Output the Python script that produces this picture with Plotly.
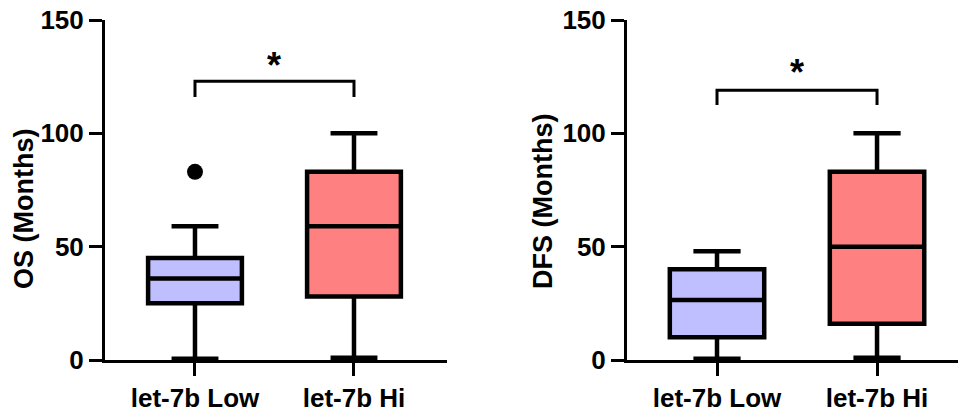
import plotly.graph_objects as go

# ---- data ----
categories = ["let-7b Low", "let-7b Hi"]

os_q1 = [25, 28]
os_median = [36, 59]
os_q3 = [45, 83]
os_lower = [0.5, 1]
os_upper = [59, 100]
os_outlier_x = ["let-7b Low"]
os_outlier_y = [83]

dfs_q1 = [10, 16]
dfs_median = [26.5, 50]
dfs_q3 = [40, 83]
dfs_lower = [0.5, 1]
dfs_upper = [48, 100]

box_colors = ["#BFBFFF", "#FF8080"]

os_bracket_top = 123
os_bracket_leg = 116
os_star_y = 130
dfs_bracket_top = 119
dfs_bracket_leg = 112.5
dfs_star_y = 127

yticks = [0, 50, 100, 150]

FONT = "Liberation Sans, Arial, sans-serif"
W, H = 958, 412

fig = go.Figure()

def add_boxes(q1, med, q3, lo, hi, xa, ya):
    for i, c in enumerate(categories):
        fig.add_trace(go.Box(
            x=[c], q1=[q1[i]], median=[med[i]], q3=[q3[i]],
            lowerfence=[lo[i]], upperfence=[hi[i]],
            width=0.59, whiskerwidth=0.5,
            fillcolor=box_colors[i],
            line=dict(color="black", width=4.5),
            boxpoints=False, hoverinfo="skip",
            xaxis=xa, yaxis=ya, showlegend=False,
        ))

add_boxes(os_q1, os_median, os_q3, os_lower, os_upper, "x", "y")
add_boxes(dfs_q1, dfs_median, dfs_q3, dfs_lower, dfs_upper, "x2", "y2")

fig.add_trace(go.Scatter(
    x=os_outlier_x, y=os_outlier_y, mode="markers",
    marker=dict(color="black", size=16),
    xaxis="x", yaxis="y", showlegend=False, hoverinfo="skip"))

# significance brackets
fig.add_trace(go.Scatter(
    x=[categories[0], categories[0], categories[1], categories[1]],
    y=[os_bracket_leg, os_bracket_top, os_bracket_top, os_bracket_leg],
    mode="lines", line=dict(color="black", width=3),
    xaxis="x", yaxis="y", showlegend=False, hoverinfo="skip"))
fig.add_trace(go.Scatter(
    x=[categories[0], categories[0], categories[1], categories[1]],
    y=[dfs_bracket_leg, dfs_bracket_top, dfs_bracket_top, dfs_bracket_leg],
    mode="lines", line=dict(color="black", width=3),
    xaxis="x2", yaxis="y2", showlegend=False, hoverinfo="skip"))

ydom = [52 / H, 392 / H]
tickfont = dict(family=FONT, size=26, color="black", weight="bold")

xcommon = dict(
    type="category", categoryorder="array", categoryarray=categories,
    showline=True, linecolor="black", linewidth=3,
    ticks="outside", ticklen=13, tickwidth=3, tickcolor="black",
    showgrid=False, zeroline=False, tickfont=tickfont, fixedrange=True,
    automargin=False,
)
ycommon = dict(
    range=[0, 150], tickvals=yticks,
    showline=True, linecolor="black", linewidth=3,
    ticks="outside", ticklen=13, tickwidth=3, tickcolor="black",
    showgrid=False, zeroline=False, tickfont=tickfont, fixedrange=True,
    domain=ydom, automargin=False,
)

fig.update_layout(
    width=W, height=H,
    margin=dict(l=0, r=0, t=0, b=0),
    paper_bgcolor="white", plot_bgcolor="white",
    xaxis=dict(xcommon, domain=[105 / W, 447 / W], range=[-0.566, 1.585], anchor="y"),
    yaxis=dict(ycommon, anchor="x"),
    xaxis2=dict(xcommon, domain=[627 / W, 1.0], range=[-0.5625, 1.506], anchor="y2"),
    yaxis2=dict(ycommon, anchor="x2"),
    showlegend=False,
)

titlefont = dict(family=FONT, size=27, color="black", weight="bold")
fig.add_annotation(text="OS (Months)", textangle=-90, xref="paper", yref="paper",
                   x=24 / W, y=(H - 209) / H, showarrow=False, font=titlefont,
                   xanchor="center", yanchor="middle")
fig.add_annotation(text="DFS (Months)", textangle=-90, xref="paper", yref="paper",
                   x=543 / W, y=(H - 202) / H, showarrow=False, font=titlefont,
                   xanchor="center", yanchor="middle")

starfont = dict(family=FONT, size=36, color="black", weight="bold")
fig.add_annotation(text="*", x=0.5, y=os_star_y, xref="x", yref="y",
                   showarrow=False, font=starfont, yanchor="middle")
fig.add_annotation(text="*", x=0.5, y=dfs_star_y, xref="x2", yref="y2",
                   showarrow=False, font=starfont, yanchor="middle")

fig.write_html("out.html")
